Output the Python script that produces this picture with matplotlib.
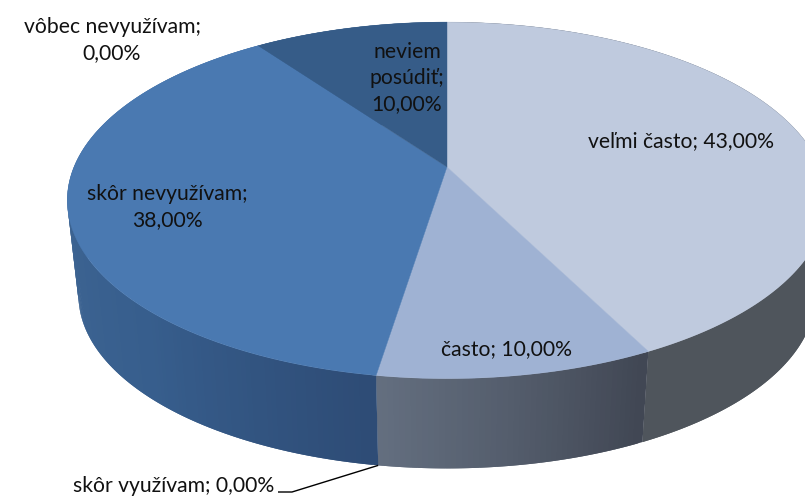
import numpy as np
import matplotlib
matplotlib.use("Agg")
import matplotlib.pyplot as plt
from matplotlib.collections import PolyCollection
from matplotlib.colors import LinearSegmentedColormap

categories = ["veľmi často", "často", "skôr využívam", "skôr nevyužívam", "vôbec nevyužívam", "neviem posúdiť"]
values = [43.0, 10.0, 0.0, 38.0, 0.0, 10.0]

label_lines = [["veľmi často; {}"], ["často; {}"], ["skôr využívam; {}"],
               ["skôr nevyužívam;", "{}"], ["vôbec nevyužívam;", "{}"], ["neviem", "posúdiť;", "{}"]]
label_xy = [(681, 141), (506, 349), (174, 486), (167, 207), (112, 40), (407, 78)]

top_colors = ["#BFCADE", "#9FB2D3", "#6F8FBF", "#4A79B1", "#4A79B1", "#365C88"]
side_stops = [["#4F555C", "#4F555C"],
              ["#414754", "#545D6C", "#646F80"],
              ["#555555", "#555555"],
              ["#2E4C76", "#375E8D", "#3D6492", "#4372A8", "#4372A8"],
              ["#4372A8", "#4372A8"],
              ["#365C88", "#365C88"]]

W, H = 805, 498
CX, CY_TOP, CY_BOT = 447.0, 167.0, 263.0
R_TOP, R_BOT = 373.0, 362.0
K_TOP, K_BOT = 172.0, 167.0
P = 0.187


def project(theta, cy, r, k):
    u, v = np.sin(theta), -np.cos(theta)
    s = 1.0 / (1.0 - P * v)
    return CX + r * u * s, cy + k * v * s


fig = plt.figure(figsize=(W / 100, H / 100), dpi=100)
ax = fig.add_axes([0, 0, 1, 1])
ax.set_xlim(0, W)
ax.set_ylim(H, 0)
ax.axis("off")

fractions = np.array(values) / sum(values)
edges = np.concatenate([[0.0], np.cumsum(fractions)]) * 2 * np.pi

# side wall: each strip overlaps the next one so no seams show
for i, (a, b) in enumerate(zip(edges[:-1], edges[1:])):
    if b - a <= 0:
        continue
    n = max(int((b - a) * 80), 2)
    th = np.linspace(a, b, n + 1)
    x1, y1 = project(th, CY_TOP, R_TOP, K_TOP)
    x2, y2 = project(th, CY_BOT, R_BOT, K_BOT)
    cmap = LinearSegmentedColormap.from_list("s", side_stops[i])
    quads, cols = [], []
    for j in range(n):
        e = min(j + 2, n)
        quads.append([(x1[j], y1[j]), (x1[j + 1], y1[j + 1]), (x1[e], y1[e]),
                      (x2[e], y2[e]), (x2[j + 1], y2[j + 1]), (x2[j], y2[j])])
        cols.append(cmap(j / (n - 1)))
    # drawn from the slice end back to its start, so each strip covers the previous overlap
    ax.add_collection(PolyCollection(quads[::-1], facecolors=cols[::-1], edgecolors="none"))

# top face
for i, (a, b) in enumerate(zip(edges[:-1], edges[1:])):
    if b - a <= 0:
        continue
    th = np.linspace(a, b, 300)
    x, y = project(th, CY_TOP, R_TOP, K_TOP)
    ax.fill(np.r_[CX, x], np.r_[CY_TOP, y], facecolor=top_colors[i], edgecolor=top_colors[i], linewidth=0.3)

# leader line for the zero slice
zero_x, zero_y = project(edges[3], CY_BOT, R_BOT, K_BOT)
ax.plot([zero_x, 292, 278], [zero_y, 492, 492], color="black", lw=1.0, solid_capstyle="butt")

# labels
for i, (lines, (lx, ly)) in enumerate(zip(label_lines, label_xy)):
    pct = f"{values[i]:.2f}%".replace(".", ",")
    txt = "\n".join(l.format(pct) for l in lines)
    ax.text(lx, ly, txt, ha="center", va="center", family=["Lato", "DejaVu Sans"],
            fontsize=15.2, color="#111111", linespacing=1.39, multialignment="center")

fig.savefig("out.png", dpi=100, facecolor="white")
